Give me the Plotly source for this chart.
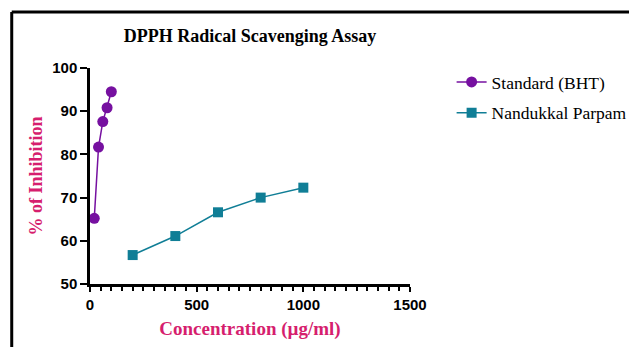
import plotly.graph_objects as go

bht_x = [20, 40, 60, 80, 100]
bht_y = [65.2, 81.7, 87.6, 90.8, 94.5]
np_x = [200, 400, 600, 800, 1000]
np_y = [56.7, 61.1, 66.6, 70.0, 72.3]

purple = "rgb(118,16,160)"
teal = "rgb(16,126,150)"
pink = "rgb(214,30,110)"

W, H = 637, 347
OFF = 8  # page body margin in the browser
L, R, T, B = 90 - OFF, 413 - OFF, 68 - OFF, 284 - OFF
pw, ph = R - L, B - T


def px(x):
    return (x - OFF - L) / pw


def py(y):
    return (B - (y - OFF)) / ph


fig = go.Figure()
fig.add_trace(go.Scatter(x=bht_x, y=bht_y, mode="lines+markers", name="Standard (BHT)",
                         legendgroup="g1",
                         line=dict(color=purple, width=1.5),
                         marker=dict(symbol="circle", size=11, color=purple)))
fig.add_trace(go.Scatter(x=np_x, y=np_y, mode="lines+markers", name="Nandukkal Parpam",
                         legendgroup="g2",
                         line=dict(color=teal, width=1.5),
                         marker=dict(symbol="square", size=10, color=teal)))

fig.update_layout(
    width=W, height=H,
    margin=dict(l=L, r=W - R, t=T, b=H - B, pad=0),
    paper_bgcolor="white", plot_bgcolor="white",
    showlegend=True,
    title=dict(text="<b>DPPH Radical Scavenging Assay</b>",
               font=dict(family="Liberation Serif", size=18, color="black"),
               x=0.5, xref="paper", xanchor="center", y=1 - (36 - OFF) / H, yanchor="middle"),
    legend=dict(x=px(455), y=py(64), xanchor="left", yanchor="top",
                font=dict(family="Liberation Serif", size=17.5, color="black"),
                traceorder="grouped", tracegroupgap=5, itemwidth=30,
                bgcolor="rgba(0,0,0,0)"),
    xaxis=dict(range=[0, 1500], dtick=500, tick0=0, showgrid=False, zeroline=False,
               showline=True, linecolor="black", linewidth=2.5,
               ticks="outside", ticklen=5, tickwidth=2, tickcolor="black",
               minor=dict(dtick=50, ticks="outside", ticklen=4, tickwidth=1.5, tickcolor="black"),
               tickfont=dict(family="Liberation Sans", size=15, color="black", weight="bold"),
               title=dict(text="<b>Concentration (µg/ml)</b>", standoff=10,
                          font=dict(family="Liberation Serif", size=19, color=pink))),
    yaxis=dict(range=[50, 100], dtick=10, showgrid=False, zeroline=False,
               showline=True, linecolor="black", linewidth=2.5,
               ticks="outside", ticklen=7, tickwidth=2, tickcolor="black",
               tickfont=dict(family="Liberation Sans", size=15, color="black", weight="bold"),
               title=dict(text="<b>% of Inhibition</b>", standoff=5,
                          font=dict(family="Liberation Serif", size=18, color=pink))),
)

# outer frame lines (top and left)
fig.add_shape(type="line", xref="paper", yref="paper", x0=px(11), x1=px(W + 20),
              y0=py(12), y1=py(12), line=dict(color="black", width=3))
fig.add_shape(type="line", xref="paper", yref="paper", x0=px(11), x1=px(11),
              y0=py(12), y1=py(H + 20), line=dict(color="black", width=3))

fig.write_html("out.html")
